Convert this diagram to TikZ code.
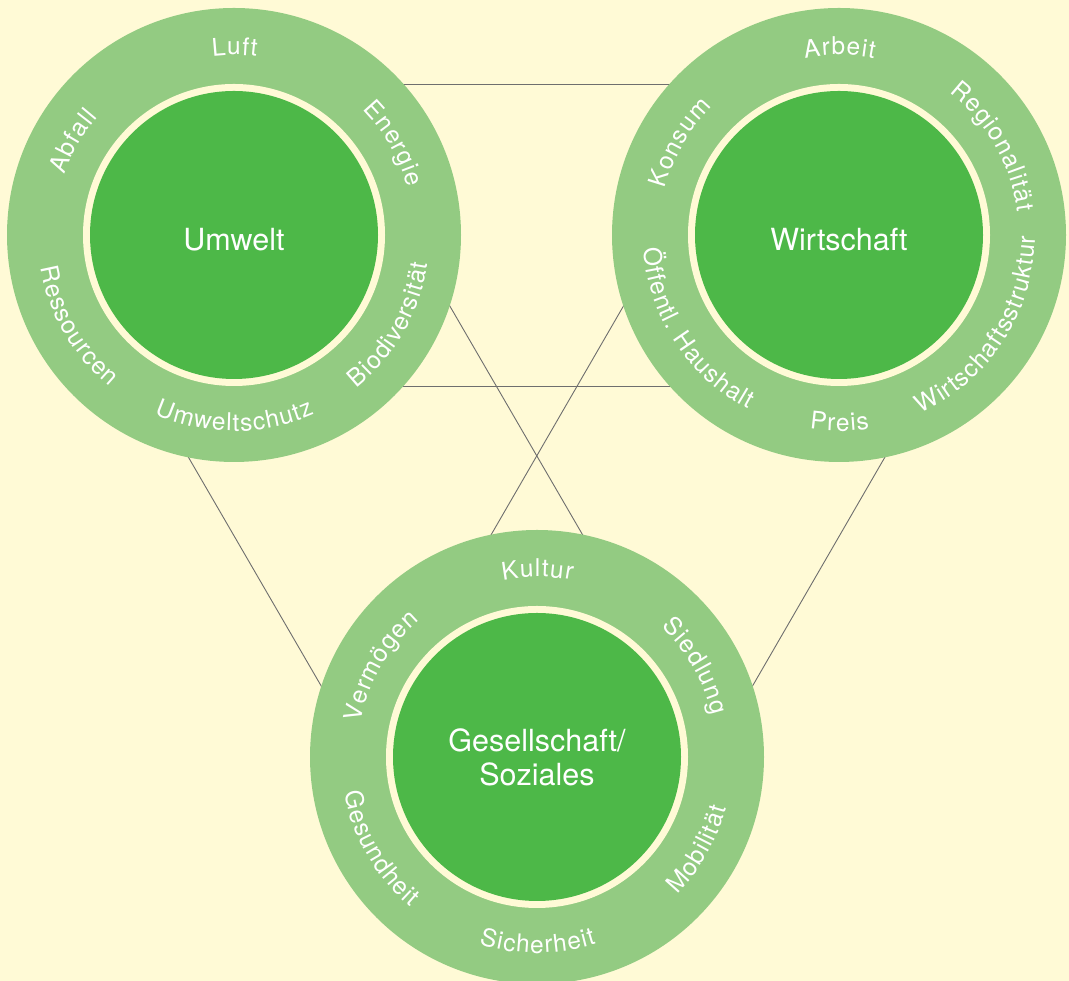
\documentclass[tikz,border=0pt]{standalone}
\usepackage{fontspec}
\setmainfont{TeX Gyre Heros}
\usetikzlibrary{calc,decorations.text,backgrounds}
\definecolor{bgc}{HTML}{FFFAD6}
\definecolor{ringc}{HTML}{93CB82}
\definecolor{corec}{HTML}{4DB848}
\definecolor{linkc}{HTML}{6E6E6E}
\newcommand\lblfont{\fontsize{24.5}{28}\selectfont\color{white}\kern1.1pt}
\newcommand\toplabel[3]{%
  \path[decorate, decoration={text along path, text align=center, text={|\lblfont|#3}}]
    ($(#1.center)+(#2+70:180pt)$) arc[start angle=#2+70, end angle=#2-70, radius=180pt];}
\newcommand\botlabel[3]{%
  \path[decorate, decoration={text along path, text align=center, text={|\lblfont|#3}}]
    ($(#1.center)+(#2-70:196pt)$) arc[start angle=#2-70, end angle=#2+70, radius=196pt];}
\tikzset{
  outerring/.style={circle, fill=ringc, minimum size=454pt, inner sep=0pt},
  gapring/.style={circle, fill=bgc, minimum size=302pt, inner sep=0pt},
  corecircle/.style={circle, fill=corec, minimum size=288pt, inner sep=0pt, text=white,
    font=\fontsize{30.5}{34}\selectfont, align=center},
  oneline/.style={text height=32pt, text depth=0pt},
  link/.style={draw=linkc, line width=0.9pt},
}
\begin{document}
\begin{tikzpicture}[x=1pt, y=1pt]
\useasboundingbox (0,0) rectangle (1069,981);
% circles
\node[outerring] (A) at (234,746) {};
\node[gapring] (Ag) at (A.center) {};
\node[corecircle, oneline] (Ac) at (A.center) {Umwelt};
\node[outerring] (B) at (839,746) {};
\node[gapring] (Bg) at (B.center) {};
\node[corecircle, oneline] (Bc) at (B.center) {Wirtschaft};
\node[outerring] (C) at (537,224) {};
\node[gapring] (Cg) at (C.center) {};
\node[corecircle] (Cc) at (C.center) {Gesellschaft/\\Soziales};
% labels
\toplabel{A}{90}{Luft}
\toplabel{A}{30}{Energie}
\toplabel{A}{150}{Abfall}
\botlabel{A}{210}{Ressourcen}
\botlabel{A}{270}{Umweltschutz}
\botlabel{A}{330}{Biodiversität}
\toplabel{B}{90}{Arbeit}
\toplabel{B}{30}{Regionalität}
\toplabel{B}{150}{Konsum}
\botlabel{B}{213}{Öffentl. Haushalt}
\botlabel{B}{270}{Preis}
\botlabel{B}{327}{Wirtschaftsstruktur}
\toplabel{C}{90}{Kultur}
\toplabel{C}{30}{Siedlung}
\toplabel{C}{150}{Vermögen}
\botlabel{C}{210}{Gesundheit}
\botlabel{C}{270}{Sicherheit}
\botlabel{C}{330}{Mobilität}
% background and connectors
\begin{scope}[on background layer]
  \fill[bgc] (0,0) rectangle (1069,981);
  \draw[link] ($(A.center)!151pt!90:(B.center)$) -- ($(B.center)!151pt!-90:(A.center)$);
  \draw[link] ($(A.center)!151pt!-90:(B.center)$) -- ($(B.center)!151pt!90:(A.center)$);
  \draw[link] ($(A.center)!151pt!90:(C.center)$) -- ($(C.center)!151pt!-90:(A.center)$);
  \draw[link] ($(A.center)!151pt!-90:(C.center)$) -- ($(C.center)!151pt!90:(A.center)$);
  \draw[link] ($(B.center)!151pt!90:(C.center)$) -- ($(C.center)!151pt!-90:(B.center)$);
  \draw[link] ($(B.center)!151pt!-90:(C.center)$) -- ($(C.center)!151pt!90:(B.center)$);
\end{scope}
\end{tikzpicture}
\end{document}
